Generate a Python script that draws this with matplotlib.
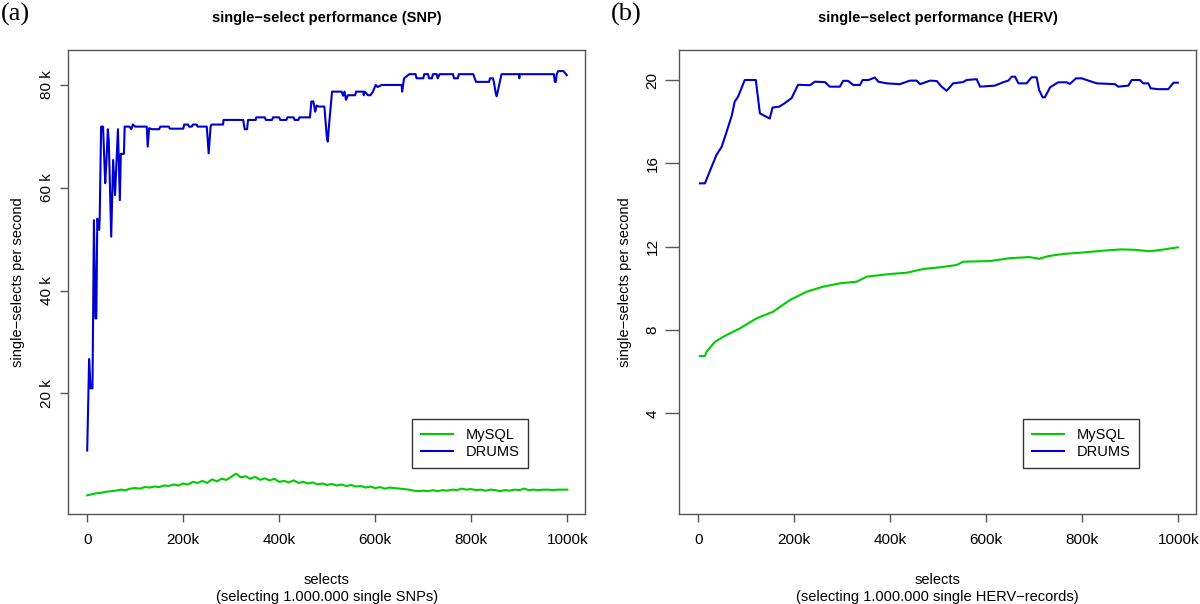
import matplotlib
matplotlib.use("Agg")
import matplotlib.pyplot as plt

# ---- data (x in thousands of selects) ----
# (a) SNP, DRUMS: single-selects per second in k
snp_drums_x = [0, 4, 7, 11, 14, 17, 19, 21, 25, 26, 29, 33, 37.5, 40, 43, 45, 50, 54, 58, 64,
               68, 70, 76.5, 78, 88, 92, 95, 100, 124, 126, 129, 135, 150, 152, 170, 172, 200,
               202, 210, 212, 218, 220, 228, 230, 249, 253, 257, 259, 283, 284, 325, 328, 333,
               335, 351, 352, 370, 372, 385, 387, 400, 402, 415, 417, 430, 432, 440, 442, 464,
               467, 471, 475, 478, 482, 494, 499, 501, 504, 510, 530, 533, 536, 539, 543, 558,
               560, 575, 576, 578, 585, 590, 595, 601, 605, 613, 655, 656, 660, 671, 684, 686,
               700, 702, 710, 712, 718, 720, 728, 730, 734, 762, 764, 772, 774, 804, 810, 837,
               839, 845, 847, 851, 853, 863, 899, 900, 901, 972, 974, 976, 978, 981, 992, 999]
snp_drums_y = [8.9, 26.7, 21.0, 21.0, 53.7, 34.6, 34.6, 54.0, 51.8, 54.0, 71.9, 71.9, 60.9, 65.0,
               71.4, 69.0, 50.5, 65.4, 58.6, 71.4, 57.6, 66.6, 66.6, 71.9, 71.9, 71.4, 72.3, 71.9,
               71.9, 68.0, 71.6, 71.4, 71.4, 71.9, 71.9, 71.5, 71.5, 72.3, 72.3, 71.9, 71.9, 72.3,
               72.3, 71.9, 71.9, 66.7, 71.9, 72.3, 72.3, 73.2, 73.2, 71.4, 71.4, 73.2, 73.2, 73.7,
               73.7, 73.2, 73.2, 73.7, 73.7, 73.2, 73.2, 73.7, 73.7, 73.2, 73.2, 73.7, 73.7, 76.8,
               76.8, 74.8, 76.0, 75.8, 75.8, 70.0, 69.0, 72.5, 78.7, 78.7, 77.9, 78.7, 77.1, 78.0,
               78.0, 78.7, 78.7, 78.0, 78.7, 78.0, 78.0, 78.7, 80.0, 79.6, 80.0, 80.0, 78.7, 81.3,
               82.1, 82.1, 81.3, 81.3, 82.1, 82.1, 81.3, 81.3, 82.1, 82.1, 81.3, 82.1, 82.1, 81.3,
               81.3, 82.1, 82.1, 80.6, 80.6, 81.3, 81.3, 80.6, 78.4, 77.8, 82.1, 82.1, 81.3, 82.1,
               82.1, 80.6, 80.6, 82.1, 82.7, 82.7, 81.9]

# (a) SNP, MySQL: one value every 10k selects
snp_mysql_x = list(range(0, 1001, 10))
snp_mysql_y = [0.2, 0.4, 0.6, 0.7, 0.9, 1.0, 1.1, 1.3, 1.2, 1.5,
               1.6, 1.5, 1.8, 1.7, 1.9, 1.8, 2.1, 2.0, 2.3, 2.1,
               2.5, 2.3, 2.8, 2.6, 3.0, 2.6, 3.3, 2.9, 3.4, 3.2,
               3.8, 4.4, 3.7, 3.9, 3.4, 3.8, 3.2, 3.5, 3.1, 3.4,
               2.8, 3.0, 2.7, 3.1, 2.6, 2.8, 2.5, 2.7, 2.3, 2.5,
               2.2, 2.4, 2.1, 2.3, 2.0, 2.2, 1.9, 2.0, 1.7, 1.9,
               1.6, 1.8, 1.5, 1.7, 1.6, 1.5, 1.4, 1.3, 1.1, 1.0,
               1.1, 1.0, 1.2, 1.0, 1.2, 1.1, 1.3, 1.2, 1.5, 1.3,
               1.4, 1.2, 1.3, 1.1, 1.3, 1.2, 1.0, 1.2, 1.1, 1.3,
               1.2, 1.5, 1.2, 1.3, 1.2, 1.3, 1.3, 1.2, 1.3, 1.3,
               1.3]

# (b) HERV, DRUMS
herv_drums_x = [3.5, 14, 28, 38, 49, 59, 70, 76, 83, 97, 120, 128.5, 139, 149, 155, 169, 181,
                194.5, 208, 233, 243, 264, 274, 295, 302, 312, 323, 337, 342.5, 355, 368, 375,
                392.5, 420, 441, 455, 462, 483, 497, 507, 517.5, 531, 552, 559, 580, 587, 618,
                635, 646, 653, 660, 667, 684, 694.5, 705, 710, 717.5, 722, 733, 750, 767.5, 774,
                787, 799, 809, 830, 868, 875, 896, 903, 920, 927, 937.5, 942.5, 958, 979, 990, 999]
herv_drums_y = [15.04, 15.04, 15.84, 16.4, 16.8, 17.5, 18.3, 18.96, 19.2, 20.0, 20.0, 18.4,
                18.27, 18.15, 18.68, 18.72, 18.9, 19.13, 19.77, 19.75, 19.92, 19.9, 19.68, 19.68,
                19.96, 19.96, 19.76, 19.76, 20.0, 20.0, 20.12, 19.92, 19.84, 19.8, 19.97, 19.97,
                19.8, 19.97, 19.95, 19.68, 19.48, 19.84, 19.9, 20.0, 20.04, 19.68, 19.73, 19.89,
                19.97, 20.16, 20.16, 19.84, 19.84, 20.13, 20.13, 19.52, 19.17, 19.17, 19.65,
                19.89, 19.89, 19.81, 20.08, 20.08, 20.0, 19.84, 19.8, 19.68, 19.73, 20.0, 20.0,
                19.84, 19.84, 19.6, 19.56, 19.56, 19.87, 19.87]

# (b) HERV, MySQL
herv_mysql_x = [3.5, 14, 17.5, 35, 59, 87, 121.5, 156, 191, 226, 260, 295, 330, 351, 400, 434,
                469, 503.5, 538, 552, 608, 650, 690, 710, 730, 760, 800, 850, 880, 910, 940, 965, 999]
herv_mysql_y = [6.75, 6.75, 6.96, 7.44, 7.76, 8.08, 8.56, 8.88, 9.44, 9.84, 10.08, 10.24, 10.32,
                10.56, 10.69, 10.75, 10.93, 11.01, 11.12, 11.28, 11.31, 11.45, 11.5, 11.42, 11.55,
                11.65, 11.72, 11.82, 11.87, 11.85, 11.78, 11.85, 11.97]

x_ticks = [0, 200, 400, 600, 800, 1000]
x_tick_labels = ["0", "200k", "400k", "600k", "800k", "1000k"]
snp_y_ticks = [20, 40, 60, 80]
snp_y_tick_labels = ["20 k", "40 k", "60 k", "80 k"]
herv_y_ticks = [4, 8, 12, 16, 20]
herv_y_tick_labels = ["4", "8", "12", "16", "20"]

GREEN = "#00CD00"
BLUE = "#0000CD"
FRAME = "#555555"

plt.rcParams["font.family"] = ["Liberation Sans", "DejaVu Sans"]

fig = plt.figure(figsize=(12, 6.04), dpi=100)
ax_a = fig.add_axes([68 / 1200, 1 - 514 / 604, 517.3 / 1200, 464 / 604])
ax_b = fig.add_axes([679 / 1200, 1 - 514 / 604, 517.3 / 1200, 464 / 604])

panels = [
    (ax_a, snp_mysql_x, snp_mysql_y, snp_drums_x, snp_drums_y, (-3.44, 86.8),
     snp_y_ticks, snp_y_tick_labels, "single\u2212select performance (SNP)",
     "selects\n(selecting 1.000.000 single SNPs)", "(a)", 8, -0.0967, 0.0),
    (ax_b, herv_mysql_x, herv_mysql_y, herv_drums_x, herv_drums_y, (-0.83, 21.44),
     herv_y_ticks, herv_y_tick_labels, "single\u2212select performance (HERV)",
     "selects\n(selecting 1.000.000 single HERV\u2212records)", "(b)", 14, -0.104, 0.508),
]

for ax, mx, my, dx, dy, ylim, yt, ytl, title, xlabel, tag, ylen, ylab_x, tag_x in panels:
    ax.plot(mx, my, color=GREEN, lw=1.5, label="MySQL")
    ax.plot(dx, dy, color=BLUE, lw=1.5, label="DRUMS")
    ax.set_xlim(-40, 1037.5)
    ax.set_ylim(*ylim)

    ax.set_xticks(x_ticks, x_tick_labels)
    ax.set_yticks(yt, ytl, rotation=90, va="center")
    ax.tick_params(axis="x", length=6, width=1, color=FRAME, labelsize=11, pad=8)
    ax.tick_params(axis="y", length=ylen * 0.72, width=1, color=FRAME, labelsize=11, pad=4)
    for sp in ax.spines.values():
        sp.set_color(FRAME)
        sp.set_linewidth(1)

    ax.set_title(title, fontsize=10.5, fontweight="bold", pad=20)
    ax.set_xlabel(xlabel, fontsize=10.5, linespacing=1.2)
    ax.xaxis.set_label_coords(0.5, -0.128)
    ax.set_ylabel("single\u2212selects per second", fontsize=10.5)
    ax.yaxis.set_label_coords(ylab_x, 0.5)
    ax.yaxis.label.set_va("center")

    leg = ax.legend(loc="lower right", bbox_to_anchor=(0.89, 0.099), fontsize=10.5,
                    fancybox=False, framealpha=1, edgecolor="#333333", handlelength=2.2,
                    borderpad=0.6, labelspacing=0.25, handletextpad=0.9, borderaxespad=0)
    leg.get_frame().set_linewidth(1)

    fig.text(tag_x + 0.001, 0.995, tag, fontsize=19,
             family=["Liberation Serif", "DejaVu Serif"], ha="left", va="top")

fig.savefig("out.png", dpi=100)
